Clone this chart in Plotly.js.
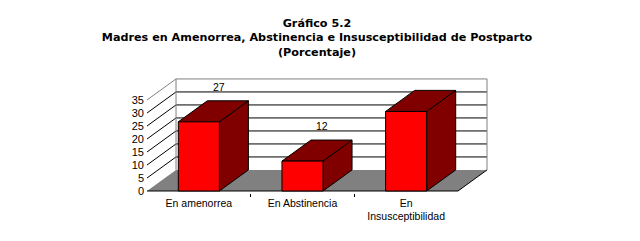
<!DOCTYPE html>
<html>
<head>
<meta charset="utf-8">
<script src="https://cdn.plot.ly/plotly-3.0.1.min.js"></script>
<style>html,body{margin:0;padding:0;background:#fff;}#chart{width:640px;height:241px;}</style>
</head>
<body>
<div id="chart"></div>
<script>
// ---- data ----
const categories = ['En amenorrea', 'En Abstinencia', 'En<br>Insusceptibilidad'];
const values = [26.6, 11.5, 30.6];
const valueLabels = ['27', '12', '31'];
const yTicks = [0, 5, 10, 15, 20, 25, 30, 35];

// ---- 3D projection constants (axis units) ----
const DX = 0.28;   // depth offset along x (category units)
const DY = 8.1;    // depth offset along y (value units)
const HALF = 0.198; // half bar width
const N = categories.length;
const YMAX = yTicks[yTicks.length - 1];

const RED = '#FF0000', DARK = '#800000', GRAY = '#808080';
const traces = [];
function poly(xs, ys, fill, lineColor, lw) {
  traces.push({
    type: 'scatter', mode: 'lines', x: xs, y: ys,
    fill: fill ? 'toself' : 'none', fillcolor: fill || undefined,
    line: {color: lineColor || 'rgba(0,0,0,0)', width: lw === undefined ? 1 : lw},
    hoverinfo: 'skip', showlegend: false
  });
}

// back wall gridlines (black) and left wall diagonals
const gx = [], gy = [];
yTicks.slice(1, -1).forEach(t => {
  gx.push(DX, N + DX, null); gy.push(t + DY, t + DY, null);
  gx.push(0, DX, null); gy.push(t, t + DY, null);
});
poly(gx, gy, null, '#000', 1);

// back wall border (gray) + top diagonal of left wall
poly([0, DX, N + DX, N + DX], [YMAX, YMAX + DY, YMAX + DY, DY], null, GRAY, 1);
poly([DX, DX], [DY, YMAX + DY], null, GRAY, 1);

// floor
poly([0, N, N + DX, DX, 0], [0, 0, DY, DY, 0], GRAY, null, 0);
poly([0, N, N + DX], [0, 0, DY], null, '#000', 1);

// bars
values.forEach((v, i) => {
  const c = i + 0.5, l = c - HALF, r = c + HALF;
  // side face
  poly([r, r + DX, r + DX, r, r], [0, DY, v + DY, v, 0], DARK, '#000', 1);
  // top face
  poly([l, r, r + DX, l + DX, l], [v, v, v + DY, v + DY, v], DARK, '#000', 1);
  // front face
  poly([l, r, r, l, l], [0, 0, v, v, 0], RED, '#000', 1);
});

const annotations = values.map((v, i) => ({
  x: i + 0.5 + 0.19, y: v + DY + 5.3, xref: 'x', yref: 'y',
  text: valueLabels[i], showarrow: false,
  font: {family: 'Arial, Liberation Sans, sans-serif', size: 10.5, color: '#000'}
}));

const layout = {
  width: 640, height: 241,
  margin: {l: 145, r: 151, t: 77, b: 48, pad: 0},
  paper_bgcolor: '#fff', plot_bgcolor: '#fff',
  showlegend: false, hovermode: false,
  font: {family: 'Arial, Liberation Sans, sans-serif', color: '#000'},
  title: {
    text: '<b>Gráfico 5.2<br>Madres en Amenorrea, Abstinencia e Insusceptibilidad de Postparto<br>(Porcentaje)</b>',
    font: {family: 'DejaVu Sans, sans-serif', size: 11.2, color: '#000'},
    x: 0.4953, xref: 'container', xanchor: 'center',
    y: 0.89, yref: 'container', yanchor: 'top'
  },
  xaxis: {
    range: [-0.0193, 3.2993], showgrid: false, zeroline: false, showline: false,
    tickmode: 'array', tickvals: categories.map((_, i) => i + 0.5), ticktext: categories,
    ticks: '', tickfont: {size: 10.5, color: '#000'}, ticklabelstandoff: 2,
    minor: {tickmode: 'array', tickvals: [1, 2], ticks: 'outside', ticklen: 3, tickcolor: '#000', showgrid: false},
    fixedrange: true
  },
  yaxis: {
    range: [-0.77, 43.85], showgrid: false, zeroline: false, showline: false,
    tickmode: 'array', tickvals: yTicks, ticks: '',
    tickfont: {size: 11, color: '#000'}, fixedrange: true
  },
  annotations: annotations
};

Plotly.newPlot('chart', traces, layout, {staticPlot: true, displayModeBar: false});
</script>
</body>
</html>
